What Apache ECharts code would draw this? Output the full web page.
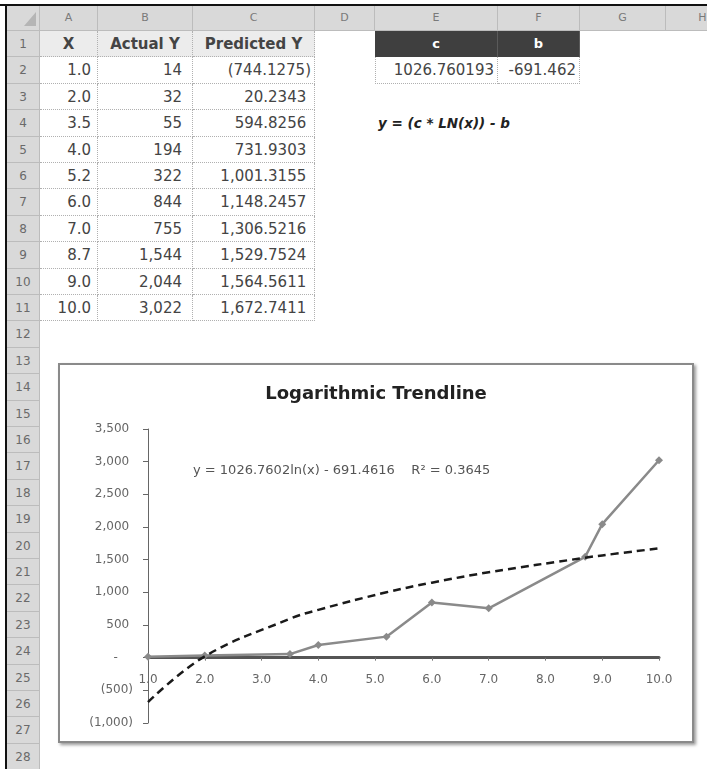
<!DOCTYPE html>
<html>
<head>
<meta charset="utf-8">
<script src="https://cdn.jsdelivr.net/npm/echarts@6/dist/echarts.min.js"></script>
<style>
  html, body { margin:0; padding:0; background:#fff; }
  body { width:707px; height:769px; position:relative; overflow:hidden; font-family: "DejaVu Sans", sans-serif; }
  .abs { position:absolute; box-sizing:border-box; }
  .hdr { background:#d9d9d9; color:#7a7a7a; font-size:11px; text-align:center; border-right:1px solid #bcbcbc; border-bottom:1px solid #bcbcbc; }
  .cell { font-size:15px; color:#444; white-space:nowrap; padding:0 4px; }
  #chartBox { left:58px; top:363px; width:636px; height:380px; border:2px solid #8a8a8a; box-shadow:2px 2px 3px #9a9a9a; background:#fff; }
  #chart { position:absolute; left:0; top:0; width:632px; height:376px; }
</style>
</head>
<body>
<div id="sheet"></div>
<div id="chartBox" class="abs"><div id="chart"></div></div>
<script>
// ---------- data ----------
const xValues = [1.0, 2.0, 3.5, 4.0, 5.2, 6.0, 7.0, 8.7, 9.0, 10.0];
const actualY = [14, 32, 55, 194, 322, 844, 755, 1544, 2044, 3022];
const predictedY = [-744.1275, 20.2343, 594.8256, 731.9303, 1001.3155, 1148.2457, 1306.5216, 1529.7524, 1564.5611, 1672.7411];
const trendY = [-680, 20, 595, 732, 1001, 1148, 1307, 1530, 1565, 1673];
const columnLetters = ['A', 'B', 'C', 'D', 'E', 'F', 'G', 'H'];
const headerLabels = ['X', 'Actual Y', 'Predicted Y'];
const coefLabels = ['c', 'b'];
const coefValues = ['1026.760193', '-691.462'];
const formulaText = 'y = (c * LN(x)) - b';
const chartTitle = 'Logarithmic Trendline';
const equationText = 'y = 1026.7602ln(x) - 691.4616    R\u00B2 = 0.3645';
const yTicks = [-1000, -500, 0, 500, 1000, 1500, 2000, 2500, 3000, 3500];
const yTickLabels = ['(1,000)', '(500)', '-', '500', '1,000', '1,500', '2,000', '2,500', '3,000', '3,500'];
const xTicks = [1, 2, 3, 4, 5, 6, 7, 8, 9, 10];
const xTickLabels = ['1.0', '2.0', '3.0', '4.0', '5.0', '6.0', '7.0', '8.0', '9.0', '10.0'];

// ---------- spreadsheet ----------
const colEdges = [6, 40, 98, 193, 315, 375, 498, 580, 666, 740];
const rowTop0 = 31, rowH = 26.4, nRows = 28;
const sheet = document.getElementById('sheet');
function div(cls, style, text) {
  const d = document.createElement('div');
  d.className = 'abs ' + cls;
  Object.assign(d.style, style);
  if (text !== undefined) d.textContent = text;
  sheet.appendChild(d);
  return d;
}
function rowTop(r) { return rowTop0 + (r - 1) * rowH; }
function fmtThousands(v, dec) {
  const s = Math.abs(v).toFixed(dec);
  const [i, f] = s.split('.');
  const ii = i.replace(/\B(?=(\d{3})+(?!\d))/g, ',');
  return f ? ii + '.' + f : ii;
}
function fmtAcct(v, dec) { return v < 0 ? '(' + fmtThousands(v, dec) + ')' : fmtThousands(v, dec) + '\u00A0'; }

// borders
div('', {left:'0px', top:'4px', width:'707px', height:'2px', background:'#111'});
div('', {left:'5px', top:'4px', width:'2px', height:'765px', background:'#111'});
// column header
div('hdr', {left:'7px', top:'6px', width:(colEdges[1]-7)+'px', height:'25px'});
div('', {left:'24px', top:'12px', width:'0', height:'0', borderLeft:'12px solid transparent', borderBottom:'14px solid #b5b5b5'});
for (let c = 0; c < columnLetters.length; c++) {
  div('hdr', {left:colEdges[c+1]+'px', top:'6px', width:(colEdges[c+2]-colEdges[c+1])+'px', height:'25px', lineHeight:'24px'}, columnLetters[c]);
}
// row header
for (let r = 1; r <= nRows; r++) {
  div('hdr', {left:'7px', top:rowTop(r)+'px', width:(colEdges[1]-7)+'px', height:rowH+'px', lineHeight:rowH+'px', fontSize:'12px', color:'#6a6a6a'}, String(r));
}
// table header row
for (let c = 0; c < 3; c++) {
  div('cell', {left:colEdges[c+1]+'px', top:rowTop(1)+'px', width:(colEdges[c+2]-colEdges[c+1])+'px', height:rowH+'px',
    lineHeight:rowH+'px', background:'#ececec', fontWeight:'bold', textAlign:'center', borderRight:'1px dotted #b0b0b0', borderBottom:'1px dotted #b0b0b0'}, headerLabels[c]);
}
const colPad = [6, 10, 3];
for (let i = 0; i < xValues.length; i++) {
  const r = i + 2;
  const texts = [xValues[i].toFixed(1), fmtThousands(actualY[i], 0), fmtAcct(predictedY[i], 4)];
  for (let c = 0; c < 3; c++) {
    div('cell', {left:colEdges[c+1]+'px', top:rowTop(r)+'px', width:(colEdges[c+2]-colEdges[c+1])+'px', height:rowH+'px',
      lineHeight:rowH+'px', textAlign:'right', borderRight:'1px dotted #b0b0b0', borderBottom:'1px dotted #b0b0b0',
      paddingRight: colPad[c] + 'px'}, texts[c]);
  }
}
// coefficients
for (let c = 0; c < 2; c++) {
  div('cell', {left:colEdges[5+c]+'px', top:rowTop(1)+'px', width:(colEdges[6+c]-colEdges[5+c])+'px', height:rowH+'px',
    lineHeight:rowH+'px', background:'#3f3f3f', color:'#fff', fontWeight:'bold', fontSize:'13px', textAlign:'center', borderRight:'1px solid #5a5a5a'}, coefLabels[c]);
  div('cell', {left:colEdges[5+c]+'px', top:rowTop(2)+'px', width:(colEdges[6+c]-colEdges[5+c])+'px', height:rowH+'px',
    lineHeight:rowH+'px', textAlign:'right', paddingRight:'3px', borderRight:'1px dotted #b0b0b0', borderBottom:'1px dotted #b0b0b0', borderLeft: c===0 ? '1px dotted #b0b0b0' : 'none'}, coefValues[c]);
}
div('cell', {left:(colEdges[5]-1)+'px', top:rowTop(4)+'px', height:rowH+'px', lineHeight:rowH+'px', fontSize:'13.5px', fontStyle:'italic', fontWeight:'bold', color:'#222'}, formulaText);

// ---------- chart ----------
const chartEl = document.getElementById('chart');
const chart = echarts.init(chartEl, null, {renderer:'canvas'});
const yLabelMap = {}; yTicks.forEach((v, i) => yLabelMap[v] = yTickLabels[i]);
const xLabelMap = {}; xTicks.forEach((v, i) => xLabelMap[v] = xTickLabels[i]);
const gridTop = 64, gridBottom = 18;
const yMin = yTicks[0], yMax = yTicks[yTicks.length - 1];
const plotH = chartEl.clientHeight - gridTop - gridBottom;
const zeroOffset = -plotH * (0 - yMin) / (yMax - yMin);
function yLabel(v) {
  const t = yLabelMap[v];
  if (t === undefined) return '';
  if (v > 0) return t + '\u00A0';
  if (v === 0) return t + '\u00A0\u00A0\u00A0\u00A0';
  return t;
}
chart.setOption({
  animation: false,
  title: { text: chartTitle, left: 'center', top: 15, textStyle: { fontFamily: 'DejaVu Sans', fontWeight: 'bold', fontSize: 18, color: '#222' } },
  grid: { left: 88, right: 33, top: gridTop, bottom: gridBottom },
  xAxis: {
    type: 'value', min: 1, max: 10, interval: 1,
    position: 'bottom', offset: zeroOffset,
    axisLine: { onZero: false, lineStyle: { color: '#555', width: 3 } },
    axisTick: { show: true, length: 3, lineStyle: { color: '#777' } },
    axisLabel: { margin: 16, color: '#666', fontSize: 12, fontFamily: 'DejaVu Sans', formatter: v => xLabelMap[v] || '' },
    splitLine: { show: false }
  },
  yAxis: {
    type: 'value', min: yMin, max: yMax, interval: 500,
    axisLine: { show: true, lineStyle: { color: '#666', width: 1 } },
    axisTick: { show: true, length: 5, lineStyle: { color: '#666' } },
    axisLabel: { margin: 15, color: '#666', fontSize: 12, fontFamily: 'DejaVu Sans', formatter: yLabel },
    splitLine: { show: false }
  },
  graphic: [{
    type: 'text', left: 133, top: 99,
    style: { text: equationText, fontSize: 13, fontFamily: 'DejaVu Sans', fill: '#555' }
  }],
  series: [
    {
      name: 'Actual Y', type: 'line',
      data: xValues.map((x, i) => [x, actualY[i]]),
      symbol: 'diamond', symbolSize: 8,
      lineStyle: { color: '#8a8a8a', width: 2.5 },
      itemStyle: { color: '#8a8a8a' }, z: 3
    },
    {
      name: 'Trend', type: 'line',
      data: xValues.map((x, i) => [x, trendY[i]]),
      smooth: 0.4, symbol: 'none',
      lineStyle: { color: '#1a1a1a', width: 2.5, type: [8, 5] }, z: 4
    }
  ]
});
</script>
</body>
</html>
